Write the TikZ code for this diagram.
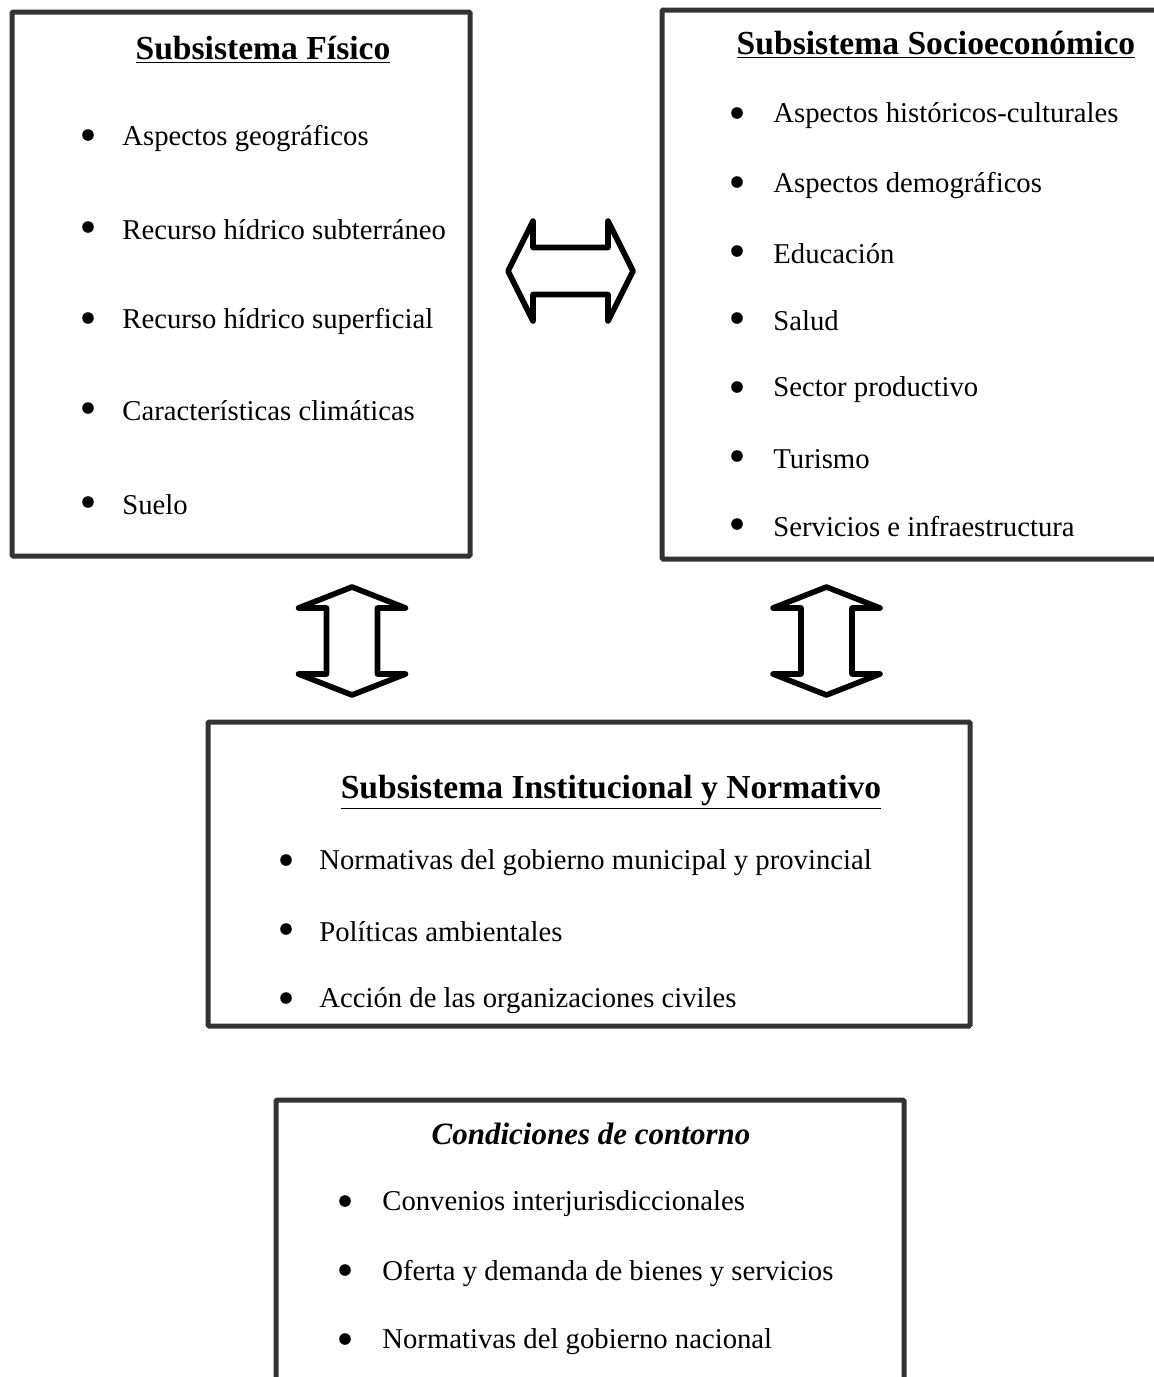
\documentclass[tikz,border=0pt]{standalone}
\usepackage{fontspec}
\setmainfont{Liberation Serif}
\usetikzlibrary{positioning}

\tikzset{
  caja/.style={draw=black!80,line width=2.5pt,rounded corners=0.6pt,inner sep=0pt},
  titulo/.style={font=\fontsize{16.8}{20}\selectfont\bfseries,inner sep=0pt},
  item/.style={anchor=west,font=\fontsize{14.35}{17}\selectfont,inner sep=0pt,yshift=-1.5pt},
  bala/.style={fill=black},
  flecha/.style={draw=black,line width=2.8pt,line join=round,line cap=round,fill=white}
}

\begin{document}
\begin{tikzpicture}[x=0.5pt,y=-0.5pt]
        \useasboundingbox (0,0) rectangle (1154,1377);
        \clip (0,0) rectangle (1154,1377);
        % cajas
        \node[caja,minimum width=229pt,minimum height=272pt] (fisico) at (241,284) {};
        \node[caja,minimum width=254pt,minimum height=274.5pt] (socio) at (916,284.5) {};
        \node[caja,minimum width=381pt,minimum height=152pt] (inst) at (589,874) {};
        \node[caja,minimum width=314pt,minimum height=150pt] (contorno) at (590,1250) {};
        % titulos
        \node[titulo] (tfisico) at (263,50) {\underline{Subsistema Físico}};
        \node[titulo] (tsocio) at (936,45) {\underline{Subsistema Socioeconómico}};
        \node[titulo] (tinst) at (611,792) {\underline{Subsistema Institucional y Normativo}};
        \node[titulo,font=\fontsize{15.5}{18}\selectfont\bfseries\itshape] (tcontorno) at (591,1134) {Condiciones de contorno};
        % subsistema fisico
        \foreach \y/\t in {135/Aspectos geográficos, 227/Recurso hídrico subterráneo,
          318/Recurso hídrico superficial, 408/Características climáticas, 502/Suelo} {
            \fill[bala] (88,\y) circle(2.9pt);
            \node[item] at (122,\y) {\t};
        }
        % subsistema socioeconomico
        \foreach \y/\t in {113/Aspectos históricos-culturales, 182/Aspectos demográficos,
          251/Educación, 318/Salud, 387/Sector productivo, 456/Turismo,
          524/Servicios e infraestructura} {
            \fill[bala] (737,\y) circle(2.9pt);
            \node[item] at (773,\y) {\t};
        }
        % subsistema institucional
        \foreach \y/\t in {860/Normativas del gobierno municipal y provincial,
          929/Políticas ambientales, 998/Acción de las organizaciones civiles} {
            \fill[bala] (286,\y) circle(2.9pt);
            \node[item] at (319,\y) {\t};
        }
        % condiciones de contorno
        \foreach \y/\t in {1201/Convenios interjurisdiccionales,
          1270/Oferta y demanda de bienes y servicios, 1339/Normativas del gobierno nacional} {
            \fill[bala] (345,\y) circle(2.9pt);
            \node[item] at (382,\y) {\t};
        }
        % flechas dobles
        \coordinate (fh) at (570.5,271);
        \coordinate (fv1) at (352,641);
        \coordinate (fv2) at (826.5,641);
        \draw[flecha,shift={(fh)}] (-62.5,0) -- (-37.5,-50) -- (-37.5,-23.5) -- (37.5,-23.5) --
          (37.5,-50) -- (62.5,0) -- (37.5,50) -- (37.5,23.5) -- (-37.5,23.5) -- (-37.5,50) -- cycle;
        \foreach \c in {fv1,fv2} {
          \draw[flecha,shift={(\c)}] (0,-54) -- (53.5,-33) -- (25.5,-33) -- (25.5,33) -- (53.5,33) --
            (0,54) -- (-53.5,33) -- (-25.5,33) -- (-25.5,-33) -- (-53.5,-33) -- cycle;
        }
\end{tikzpicture}
\end{document}
